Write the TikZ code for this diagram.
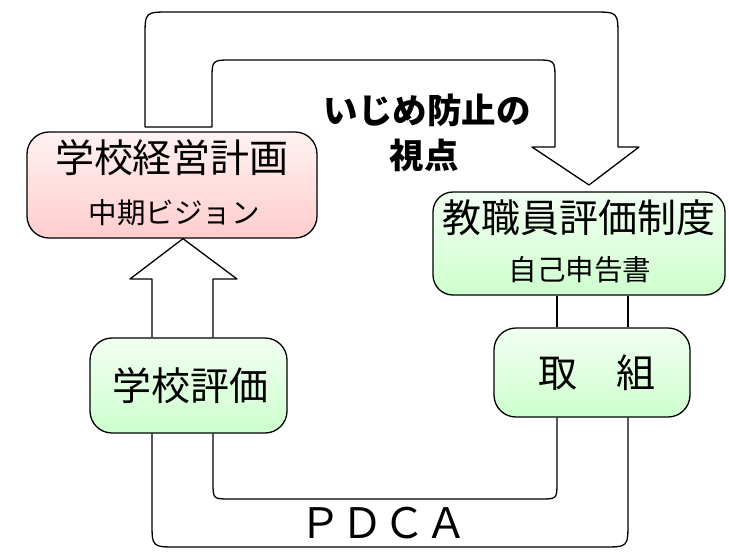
\documentclass[tikz,border=0pt]{standalone}
\usepackage{fontspec}
\newfontfamily\jp{Noto Sans CJK JP}
\definecolor{pinktop}{RGB}{255,242,242}
\definecolor{pinkbot}{RGB}{255,205,205}
\definecolor{greentop}{RGB}{242,255,242}
\definecolor{greenbot}{RGB}{205,255,205}
\tikzset{
  edge/.style={draw=black, line width=1.3pt, line join=round},
  pinkbox/.style={edge, rounded corners=22pt, top color=pinktop, bottom color=pinkbot, inner sep=0pt},
  greenbox/.style={edge, rounded corners=22pt, top color=greentop, bottom color=greenbot, inner sep=0pt},
  bigtext/.style={font=\jp\fontsize{39}{39}\selectfont, inner sep=0pt},
  subtext/.style={font=\jp\fontsize{28.5}{28.5}\selectfont, inner sep=0pt},
  boldtext/.style={font=\jp\bfseries\fontsize{34.5}{34.5}\selectfont, inner sep=0pt},
  pdcatext/.style={font=\jp\fontsize{42}{42}\selectfont, inner sep=0pt}
}
\begin{document}
\begin{tikzpicture}[x=1pt,y=-1pt]
\useasboundingbox (0,0) rectangle (729,552);
% coordinates for the connector columns
\coordinate (cl) at (152,0);
\coordinate (cr) at (213,0);
\coordinate (dl) at (557,0);
\coordinate (dr) at (628,0);
\coordinate (tipx) at (183,0);
% top block arrow
\draw[edge, fill=white] (145,127) -- (145,37) .. controls (145,12) .. (170,12) -- (593,12) .. controls (618,12) .. (618,37) -- (618,147) -- (639,147) -- (589,185) -- (532,147) -- (555,147) -- (555,80) .. controls (555,60) .. (535,60) -- (232,60) .. controls (212,60) .. (212,80) -- (212,127) -- cycle;
% boxes
\node[pinkbox, minimum width=290pt, minimum height=106pt] (plan) at (172,185) {};
\node[greenbox, rounded corners=20pt, minimum width=292pt, minimum height=103pt] (staff) at (579,243.5) {};
\node[greenbox, minimum width=197pt, minimum height=95pt] (eval) at (188.5,385.5) {};
\node[greenbox, minimum width=196pt, minimum height=89pt] (tori) at (592,372.5) {};
% up block arrow
\draw[edge] (eval.north -| cl) -- (152,279) -- (130,279) -- (plan.south -| tipx) -- (237,279) -- (213,279) -- (eval.north -| cr);
% links between staff and tori
\draw[edge] (staff.south -| dl) -- (tori.north -| dl);
\draw[edge] (staff.south -| dr) -- (tori.north -| dr);
% PDCA band
\draw[edge] (eval.south -| cl) -- (152,522) .. controls (152,547) .. (177,547) -- (603,547) .. controls (628,547) .. (628,522) -- (tori.south -| dr);
\draw[edge] (eval.south -| cr) -- (213,482) .. controls (213,499) .. (230,499) -- (540,499) .. controls (557,499) .. (557,482) -- (tori.south -| dl);
% texts
\node[bigtext] (plant) at (172,158) {学校経営計画};
\node[subtext] (plans) at (174,213) {中期ビジョン};
\node[bigtext] (stafft) at (579,218) {教職員評価制度};
\node[subtext] (staffs) at (580,270) {自己申告書};
\node[bigtext] (evalt) at (190,386) {学校評価};
\node[bigtext] (torit) at (597,373) {取　組};
\node[boldtext] (view1) at (427,110) {いじめ防止の};
\node[boldtext] (view2) at (424,155) {視点};
\node[pdcatext] (pdca) at (383,523) {ＰＤＣＡ};
\end{tikzpicture}
\end{document}
